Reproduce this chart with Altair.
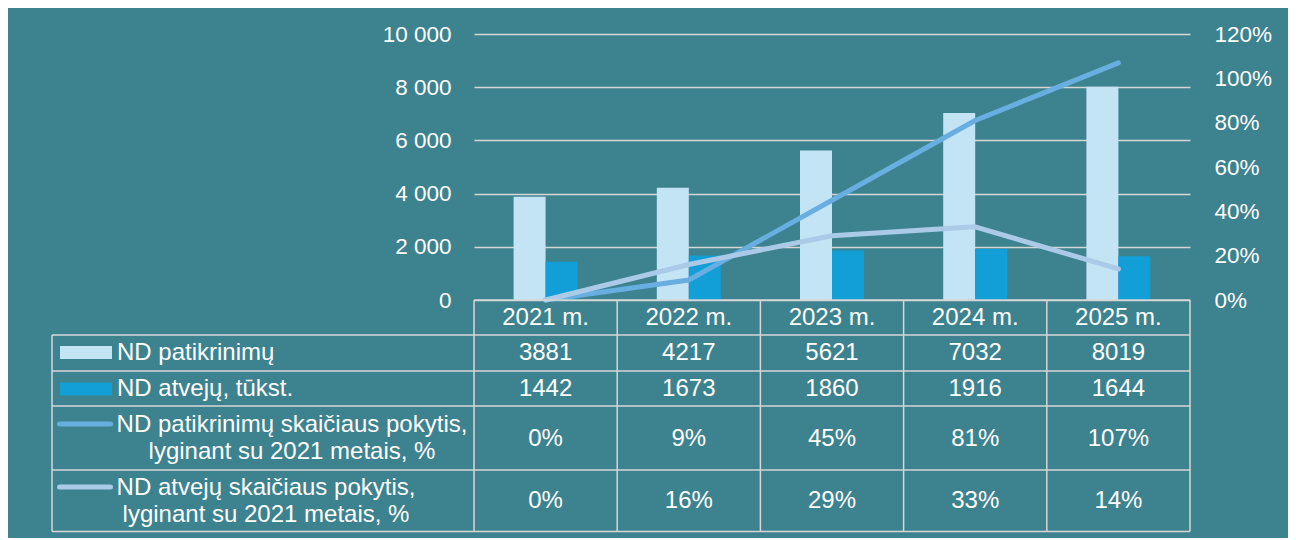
import altair as alt
import pandas as pd

# ---- data ----
years = ["2021 m.", "2022 m.", "2023 m.", "2024 m.", "2025 m."]
checks = [3881, 4217, 5621, 7032, 8019]
cases = [1442, 1673, 1860, 1916, 1644]
checks_change = [0, 9, 45, 81, 107]
cases_change = [0, 16, 29, 33, 14]

s_checks = "ND patikrinimų"
s_cases = "ND atvejų, tūkst."
l_checks = ["ND patikrinimų skaičiaus pokytis,", "lyginant su 2021 metais, %"]
l_cases = ["ND atvejų skaičiaus pokytis,", "lyginant su 2021 metais, %"]

left_ticks = [0, 2000, 4000, 6000, 8000, 10000]
right_ticks = [0, 20, 40, 60, 80, 100, 120]

# ---- styles ----
BG = "#3D828F"
C_LIGHT = "#C3E4F5"
C_DARK = "#129FD8"
C_LINE1 = "#68AEE0"
C_LINE2 = "#AACAE7"
GRID = "#D6D6D6"
WHITE = "#FFFFFF"
FONT = "Liberation Sans"

W, H = 716, 266
STEP = W / len(years)
BAR = 32

df = pd.DataFrame({
    "year": years, "checks": checks, "cases": cases,
    "checks_change": checks_change, "cases_change": cases_change,
})
bars_df = pd.DataFrame({
    "year": years * 2,
    "series": [s_checks] * len(years) + [s_cases] * len(years),
    "value": checks + cases,
})
lines_df = pd.DataFrame({
    "year": years * 2,
    "series": ["checks_change"] * len(years) + ["cases_change"] * len(years),
    "pct": checks_change + cases_change,
})
one = pd.DataFrame({"k": [0]})

X = alt.X("year:N", sort=years, scale=alt.Scale(paddingInner=0, paddingOuter=0), axis=None)

bars = alt.Chart(bars_df).mark_bar().encode(
    x=X,
    xOffset=alt.XOffset("series:N", sort=[s_checks, s_cases],
                        scale=alt.Scale(paddingInner=0, paddingOuter=0,
                                        range=[STEP / 2 - BAR, STEP / 2 + BAR])),
    y=alt.Y("value:Q", scale=alt.Scale(domain=[0, 10000]),
            axis=alt.Axis(orient="left", values=left_ticks, title=None,
                          labelExpr="replace(format(datum.value, ',d'), ',', ' ')",
                          grid=True, gridColor=GRID, gridWidth=1.5,
                          domain=False, ticks=False, labelPadding=23,
                          labelFontSize=22.5, labelColor=WHITE, labelFont=FONT)),
    color=alt.Color("series:N", scale=alt.Scale(domain=[s_checks, s_cases], range=[C_LIGHT, C_DARK]),
                    legend=None),
)

lines = alt.Chart(lines_df).mark_line(strokeWidth=5, strokeCap="round", strokeJoin="round").encode(
    x=X,
    y=alt.Y("pct:Q", scale=alt.Scale(domain=[0, 120]),
            axis=alt.Axis(orient="right", values=right_ticks, title=None,
                          labelExpr="datum.value + '%'", grid=False,
                          domain=False, ticks=False, labelPadding=24,
                          labelFontSize=22.5, labelColor=WHITE, labelFont=FONT)),
    color=alt.Color("series:N", scale=alt.Scale(domain=["checks_change", "cases_change"],
                                               range=[C_LINE1, C_LINE2]), legend=None),
    order=alt.Order("series:N", sort="descending"),
)

layers = [bars, lines]

# ---- table grid ----
TOP = H            # header top (axis baseline)
ROW_LINES = [301, 337, 372, 436, 497.5]
LEFT = -422
BOTTOM = ROW_LINES[-1]
layers.append(alt.Chart(one).mark_rule(color=GRID, strokeWidth=1.5).encode(
    x=alt.value(0), x2=alt.value(W), y=alt.value(TOP)))
for yy in ROW_LINES:
    layers.append(alt.Chart(one).mark_rule(color=GRID, strokeWidth=1.5).encode(
        x=alt.value(LEFT), x2=alt.value(W), y=alt.value(yy)))
layers.append(alt.Chart(df).mark_rule(color=GRID, strokeWidth=1.5).encode(
    x=alt.X("year:N", sort=years, bandPosition=0, axis=None),
    y=alt.value(TOP), y2=alt.value(BOTTOM)))
layers.append(alt.Chart(one).mark_rule(color=GRID, strokeWidth=1.5).encode(
    x=alt.value(W), y=alt.value(TOP), y2=alt.value(BOTTOM)))
layers.append(alt.Chart(one).mark_rule(color=GRID, strokeWidth=1.5).encode(
    x=alt.value(LEFT), y=alt.value(ROW_LINES[0]), y2=alt.value(BOTTOM)))

# ---- table texts ----
TXT = dict(fontSize=24, color=WHITE, font=FONT, baseline="middle")
layers.append(alt.Chart(df).mark_text(**TXT).encode(x=X, y=alt.value(283.5), text="year:N"))
layers.append(alt.Chart(df).mark_text(**TXT).encode(
    x=X, y=alt.value(319), text=alt.Text("checks:Q", format="d")))
layers.append(alt.Chart(df).mark_text(**TXT).encode(
    x=X, y=alt.value(355), text=alt.Text("cases:Q", format="d")))
layers.append(alt.Chart(df).transform_calculate(t="datum.checks_change + '%'").mark_text(**TXT).encode(
    x=X, y=alt.value(404.5), text="t:N"))
layers.append(alt.Chart(df).transform_calculate(t="datum.cases_change + '%'").mark_text(**TXT).encode(
    x=X, y=alt.value(467), text="t:N"))

# row labels
layers.append(alt.Chart(one).mark_text(align="left", **TXT).encode(
    x=alt.value(-357), y=alt.value(319), text=alt.value(s_checks)))
layers.append(alt.Chart(one).mark_text(align="left", **TXT).encode(
    x=alt.value(-357), y=alt.value(355), text=alt.value(s_cases)))
layers.append(alt.Chart(one).mark_text(align="center", lineBreak="\n", lineHeight=27, **TXT).encode(
    x=alt.value(-182), y=alt.value(391), text=alt.value("\n".join(l_checks))))
layers.append(alt.Chart(one).mark_text(align="center", lineBreak="\n", lineHeight=27, **TXT).encode(
    x=alt.value(-208), y=alt.value(453.5), text=alt.value("\n".join(l_cases))))

# legend swatches
layers.append(alt.Chart(one).mark_rect(color=C_LIGHT).encode(
    x=alt.value(-414), x2=alt.value(-362), y=alt.value(312), y2=alt.value(325)))
layers.append(alt.Chart(one).mark_rect(color=C_DARK).encode(
    x=alt.value(-414), x2=alt.value(-362), y=alt.value(348.5), y2=alt.value(361.5)))
layers.append(alt.Chart(one).mark_rule(color=C_LINE1, strokeWidth=5, strokeCap="round").encode(
    x=alt.value(-414.5), x2=alt.value(-363.5), y=alt.value(390)))
layers.append(alt.Chart(one).mark_rule(color=C_LINE2, strokeWidth=5, strokeCap="round").encode(
    x=alt.value(-414.5), x2=alt.value(-363.5), y=alt.value(453)))

chart = alt.layer(*layers).resolve_scale(y="independent", color="independent").properties(
    width=W, height=H,
    padding={"left": 466, "top": 26, "right": 98, "bottom": 238},
    autosize=alt.AutoSizeParams(type="none"),
    background=BG,
).configure_view(stroke=None).configure_text(font=FONT)

chart.save("out.html", embed_options={"renderer": "svg", "actions": False})
